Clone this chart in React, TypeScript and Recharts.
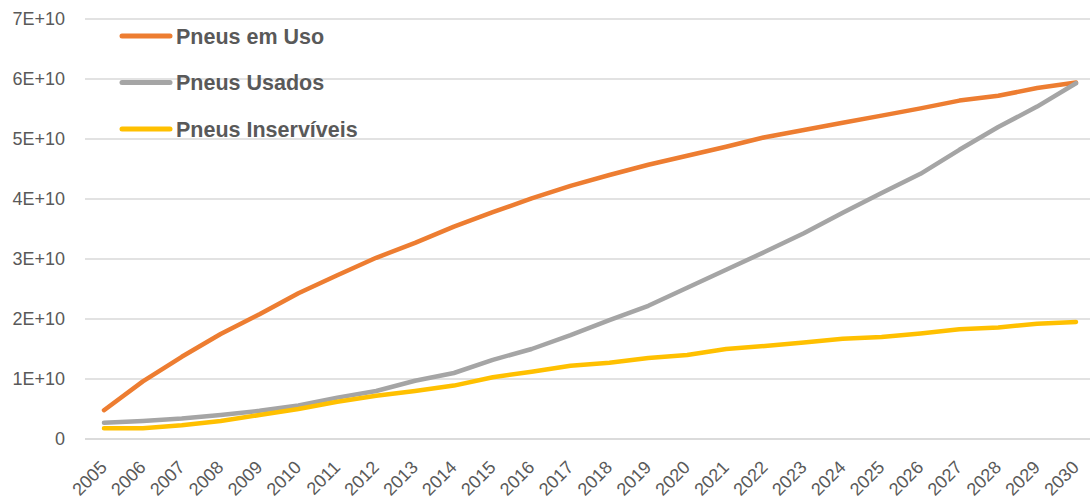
import React from "react";
import { LineChart, Line, XAxis, YAxis, CartesianGrid, Legend } from "recharts";

const years = ["2005","2006","2007","2008","2009","2010","2011","2012","2013","2014","2015","2016","2017","2018","2019","2020","2021","2022","2023","2024","2025","2026","2027","2028","2029","2030"];

const emUso = [0.48,0.96,1.37,1.75,2.08,2.43,2.73,3.02,3.27,3.54,3.78,4.01,4.22,4.4,4.57,4.72,4.87,5.03,5.15,5.27,5.39,5.51,5.64,5.72,5.85,5.94];
const usados = [0.27,0.3,0.34,0.4,0.47,0.56,0.69,0.8,0.97,1.1,1.32,1.5,1.73,1.98,2.22,2.52,2.82,3.12,3.43,3.77,4.1,4.42,4.82,5.2,5.54,5.93];
const inserviveis = [0.18,0.18,0.23,0.3,0.4,0.5,0.62,0.72,0.8,0.89,1.03,1.12,1.22,1.27,1.35,1.4,1.5,1.55,1.61,1.67,1.7,1.76,1.83,1.86,1.92,1.95];

const yTicks = [0, 1e10, 2e10, 3e10, 4e10, 5e10, 6e10, 7e10];

const seriesNames = ["Pneus em Uso", "Pneus Usados", "Pneus Inservíveis"];
const seriesColors = ["#ED7D31", "#A5A5A5", "#FFC000"];

const data = years.map((y, i) => ({
  year: y,
  emUso: emUso[i] * 1e10,
  usados: usados[i] * 1e10,
  inserviveis: inserviveis[i] * 1e10,
}));

const FONT = "'Liberation Sans', Arial, sans-serif";
const TEXT = "#595959";

const fmtY = (v: number) => (v === 0 ? "0" : `${Math.round(v / 1e10)}E+10`);

const XTick = (props: any) => {
  const { x, y, payload } = props;
  const bx = x + 4;
  const by = y + 29.5;
  return (
    <text
      x={bx}
      y={by}
      textAnchor="end"
      transform={`rotate(-45, ${bx}, ${by})`}
      fill={TEXT}
      fontSize={18}
      fontFamily={FONT}
    >
      {payload.value}
    </text>
  );
};

const renderLegend = (props: any) => {
  const payload = [...(props.payload || [])].sort(
    (a: any, b: any) => seriesNames.indexOf(a.value) - seriesNames.indexOf(b.value)
  );
  return (
    <svg width={400} height={150} style={{ display: "block" }}>
      {payload.map((entry: any, i: number) => {
        const cy = 36 + i * 46.5;
        return (
          <g key={entry.value}>
            <line x1={122} x2={170} y1={cy} y2={cy} stroke={entry.color} strokeWidth={5} strokeLinecap="round" />
            <text x={176} y={cy + 7.5} fill={TEXT} fontSize={21.5} fontWeight="bold" fontFamily={FONT}>
              {entry.value}
            </text>
          </g>
        );
      })}
    </svg>
  );
};

export default function App() {
  return (
    <div style={{ position: "absolute", left: 0, top: 0, background: "#fff" }}>
      <LineChart width={1090} height={501} data={data} margin={{ top: 19, right: 0, left: 0, bottom: 0 }}>
        <CartesianGrid horizontal vertical={false} stroke="#d9d9d9" strokeWidth={1.3} />
        <XAxis
          dataKey="year"
          height={62}
          padding={{ left: 19, right: 14 }}
          axisLine={{ stroke: "#d9d9d9", strokeWidth: 1.3 }}
          tickLine={false}
          tickSize={0}
          tickMargin={0}
          tick={<XTick />}
          interval={0}
        />
        <YAxis
          width={85}
          domain={[0, 7e10]}
          ticks={yTicks}
          tickFormatter={fmtY}
          axisLine={false}
          tickLine={false}
          tickSize={0}
          tickMargin={20}
          tick={{ fill: TEXT, fontSize: 18, fontFamily: FONT }}
        />
        <Legend
          layout="vertical"
          align="center"
          verticalAlign="middle"
          content={renderLegend}
          wrapperStyle={{ position: "absolute", left: 0, top: 0, width: 400, height: 150 }}
        />
        <Line dataKey="emUso" name={seriesNames[0]} stroke={seriesColors[0]} strokeWidth={4.5} dot={false} strokeLinecap="round" strokeLinejoin="round" isAnimationActive={false} />
        <Line dataKey="usados" name={seriesNames[1]} stroke={seriesColors[1]} strokeWidth={4.5} dot={false} strokeLinecap="round" strokeLinejoin="round" isAnimationActive={false} />
        <Line dataKey="inserviveis" name={seriesNames[2]} stroke={seriesColors[2]} strokeWidth={4.5} dot={false} strokeLinecap="round" strokeLinejoin="round" isAnimationActive={false} />
      </LineChart>
    </div>
  );
}
